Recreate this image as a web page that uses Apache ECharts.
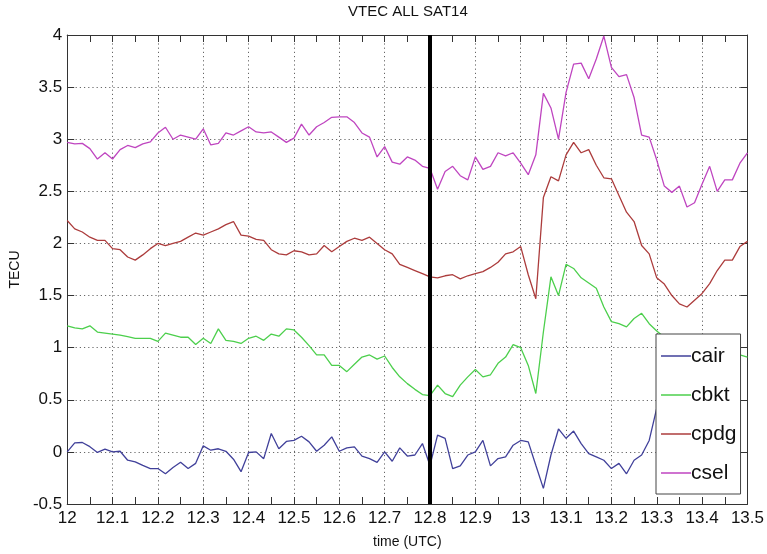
<!DOCTYPE html>
<html>
<head>
<meta charset="utf-8">
<script src="https://cdn.jsdelivr.net/npm/echarts@6/dist/echarts.min.js"></script>
<style>
  html, body { margin: 0; padding: 0; background: #fff; }
  #chart { width: 767px; height: 554px; }
</style>
</head>
<body>
<div id="chart"></div>
<script>
// one sample per minute, starting at 12:00 UTC
const startHour = 12;
const seriesNames = ['cair', 'cbkt', 'cpdg', 'csel'];
const seriesColors = ['#40409a', '#4ccf4c', '#ac3c3c', '#bf45c0'];

const cair = [0, 0.086, 0.09, 0.05, -0.005, 0.026, 0, 0.006, -0.08, -0.095,
  -0.13, -0.16, -0.16, -0.21, -0.15, -0.10, -0.16, -0.11, 0.058, 0.016,
  0.03, 0.006, -0.07, -0.19, -0.006, 0, -0.065, 0.176, 0.03, 0.10,
  0.11, 0.15, 0.096, 0.006, 0.064, 0.144, 0.006, 0.038, 0.048, -0.04,
  -0.065, -0.10, 0, -0.09, 0.038, -0.04, -0.03, 0.08, -0.13, 0.16,
  0.13, -0.16, -0.134, -0.03, 0, 0.11, -0.134, -0.064, -0.048, 0.064,
  0.11, 0.096, -0.128, -0.35, -0.03, 0.22, 0.13, 0.2, 0.08, -0.016,
  -0.048, -0.08, -0.16, -0.11, -0.21, -0.08, -0.03, 0.11, 0.42];

const cbkt = [1.21, 1.19, 1.18, 1.21, 1.15, 1.14, 1.13, 1.12, 1.105, 1.09,
  1.09, 1.09, 1.06, 1.14, 1.12, 1.10, 1.10, 1.03, 1.09, 1.04,
  1.18, 1.07, 1.06, 1.04, 1.09, 1.11, 1.07, 1.13, 1.11, 1.18,
  1.17, 1.10, 1.02, 0.93, 0.93, 0.83, 0.83, 0.77, 0.84, 0.91,
  0.93, 0.89, 0.92, 0.81, 0.72, 0.655, 0.60, 0.55, 0.54, 0.64,
  0.56, 0.53, 0.64, 0.72, 0.79, 0.72, 0.74, 0.85, 0.91, 1.03,
  1.0, 0.83, 0.56, 1.15, 1.68, 1.50, 1.80, 1.76, 1.67, 1.62,
  1.57, 1.39, 1.25, 1.23, 1.20, 1.28, 1.33, 1.23, 1.16, 1.10,
  1.05, 1.0, 0.98, 0.95, 0.97, 0.95, 0.93, 0.96, 0.95, 0.93, 0.91];

const cpdg = [2.22, 2.14, 2.11, 2.06, 2.03, 2.03, 1.95, 1.94, 1.87, 1.84,
  1.89, 1.95, 2.0, 1.98, 2.0, 2.02, 2.06, 2.1, 2.08, 2.11,
  2.14, 2.18, 2.21, 2.08, 2.07, 2.04, 2.03, 1.94, 1.9, 1.89,
  1.93, 1.92, 1.89, 1.9, 1.98, 1.92, 1.97, 2.02, 2.05, 2.03,
  2.06, 2.0, 1.94, 1.9, 1.8, 1.77, 1.74, 1.71, 1.68, 1.67,
  1.69, 1.70, 1.66, 1.69, 1.71, 1.73, 1.77, 1.82, 1.90, 1.92,
  1.97, 1.70, 1.47, 2.44, 2.64, 2.60, 2.85, 2.97, 2.87, 2.9,
  2.75, 2.63, 2.62, 2.46, 2.3, 2.21, 1.98, 1.9, 1.67, 1.61,
  1.50, 1.42, 1.39, 1.455, 1.52, 1.615, 1.74, 1.84, 1.84, 1.97, 2.02];

const csel = [2.97, 2.955, 2.96, 2.91, 2.81, 2.87, 2.81, 2.90, 2.94, 2.92,
  2.955, 2.975, 3.06, 3.115, 3.0, 3.04, 3.02, 3.0, 3.10, 2.945,
  2.96, 3.06, 3.04, 3.08, 3.12, 3.07, 3.06, 3.07, 3.02, 2.97,
  3.01, 3.145, 3.04, 3.12, 3.16, 3.21, 3.215, 3.215, 3.16, 3.06,
  3.02, 2.83, 2.93, 2.78, 2.76, 2.83, 2.80, 2.74, 2.72, 2.52,
  2.69, 2.74, 2.65, 2.61, 2.83, 2.71, 2.74, 2.87, 2.84, 2.87,
  2.77, 2.66, 2.85, 3.44, 3.30, 3.0, 3.45, 3.72, 3.73, 3.58,
  3.77, 3.99, 3.69, 3.6, 3.62, 3.4, 3.04, 3.02, 2.8, 2.55,
  2.49, 2.55, 2.35, 2.39, 2.57, 2.74, 2.5, 2.61, 2.61, 2.77, 2.87];

const markerTime = 12.8;

const font = '"Liberation Sans", Arial, sans-serif';

const toPairs = (values) => values.map((v, i) => [startHour + i / 60, v]);

const chart = echarts.init(document.getElementById('chart'), null, { renderer: 'canvas' });

const gridLine = { show: true, lineStyle: { color: '#666', width: 1, type: [1.2, 3] } };
const boxLine = { show: true, onZero: false, lineStyle: { color: '#333', width: 1 } };
const tick = { show: true, inside: true, length: 7, lineStyle: { color: '#333' } };
const minorTick = { show: true, splitNumber: 2, length: 7, lineStyle: { color: '#333' } };
const fmt = (v) => String(parseFloat(v.toFixed(2)));

const option = {
  animation: false,
  backgroundColor: '#fff',
  grid: { left: 53, top: 35, right: 19, bottom: 48 },
  xAxis: [
    {
      type: 'value', min: 12, max: 13.5, interval: 0.1, position: 'bottom',
      axisLine: boxLine, axisTick: tick, minorTick: minorTick,
      splitLine: gridLine,
      axisLabel: { color: '#111', fontSize: 17, fontFamily: font, margin: 6, formatter: fmt },
      name: 'time (UTC)', nameLocation: 'middle', nameGap: 31,
      nameTextStyle: { color: '#111', fontSize: 14, fontFamily: font }
    },
    {
      type: 'value', min: 12, max: 13.5, interval: 0.1, position: 'top',
      axisLine: boxLine, axisTick: tick, minorTick: minorTick,
      splitLine: { show: false }, axisLabel: { show: false }
    }
  ],
  yAxis: [
    {
      type: 'value', min: -0.5, max: 4, interval: 0.5, position: 'left',
      axisLine: boxLine, axisTick: tick, splitLine: gridLine,
      axisLabel: { color: '#111', fontSize: 17, fontFamily: font, margin: 5, formatter: fmt },
      name: 'TECU', nameLocation: 'middle', nameGap: 36, nameRotate: 90,
      nameTextStyle: { color: '#111', fontSize: 14, fontFamily: font }
    },
    {
      type: 'value', min: -0.5, max: 4, interval: 0.5, position: 'right',
      axisLine: boxLine, axisTick: tick,
      splitLine: { show: false }, axisLabel: { show: false }
    }
  ],
  graphic: [
    {
      type: 'text', left: 400 - 52, top: 4,
      style: { text: 'VTEC ALL SAT14', fill: '#111', font: '15px ' + font }
    }
  ],
  legend: {
    orient: 'vertical', left: 656, top: 334,
    padding: [11, 4, 10, 5],
    icon: 'rect', itemWidth: 30, itemHeight: 1.5, itemGap: 17,
    backgroundColor: '#fff', borderColor: '#444', borderWidth: 1,
    textStyle: { color: '#111', fontSize: 21, lineHeight: 22, fontFamily: font, padding: [0, 0, 0, -5] },
    data: seriesNames
  },
  series: seriesNames.map((name, k) => ({
    name: name,
    type: 'line',
    data: toPairs([cair, cbkt, cpdg, csel][k]),
    symbol: 'none',
    color: seriesColors[k],
    lineStyle: { width: 1.3, color: seriesColors[k] },
    markLine: k === 3 ? {
      silent: true, symbol: ['none', 'none'], label: { show: false },
      lineStyle: { color: '#000', width: 4, type: 'solid' },
      data: [{ xAxis: markerTime }]
    } : undefined
  }))
};

chart.setOption(option);
</script>
</body>
</html>
